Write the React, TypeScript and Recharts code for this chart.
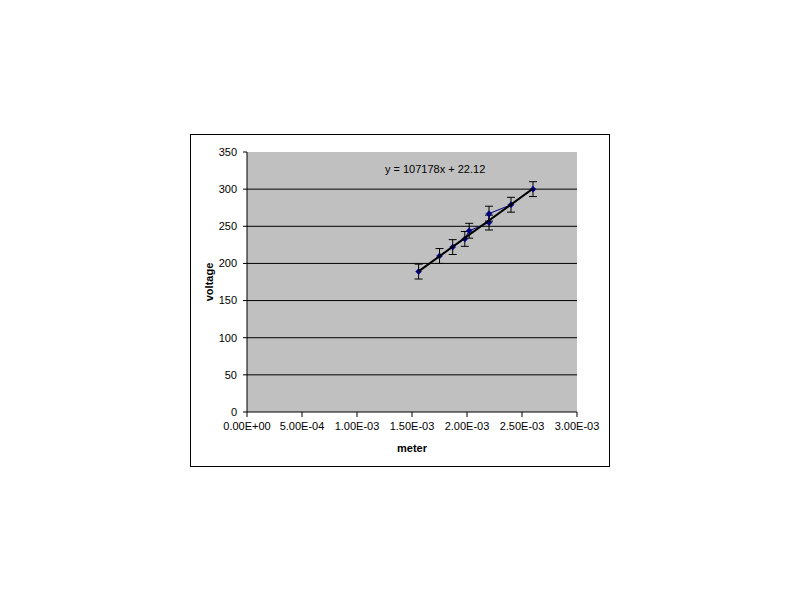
import {
  CartesianGrid,
  ErrorBar,
  Label,
  ReferenceDot,
  Scatter,
  ScatterChart,
  XAxis,
  YAxis,
} from "recharts";

const meters = [1.56e-3, 1.75e-3, 1.87e-3, 1.98e-3, 2.02e-3, 2.2e-3, 2.2e-3, 2.4e-3, 2.6e-3];
const voltages = [189, 210, 222, 233, 244, 255, 267, 279, 300];
const errors = [10, 10, 10, 10, 10, 10, 10, 10, 10];

const trendMeters = [1.56e-3, 2.6e-3];
const trendVoltages = [189.3, 300.8];

const xTicks = [0, 0.0005, 0.001, 0.0015, 0.002, 0.0025, 0.003];
const xTickLabels = ["0.00E+00", "5.00E-04", "1.00E-03", "1.50E-03", "2.00E-03", "2.50E-03", "3.00E-03"];
const yTicks = [0, 50, 100, 150, 200, 250, 300, 350];
const gridValues = [50, 100, 150, 200, 250, 300];

const equation = "y = 107178x + 22.12";

const points = meters.map((m, i) => ({ x: m, y: voltages[i], err: errors[i] }));
const trend = trendMeters.map((m, i) => ({ x: m, y: trendVoltages[i] }));

const FONT = "'Liberation Sans', Arial, sans-serif";
const tickStyle = { fontSize: 11, fill: "#000", fontFamily: FONT };

// small excel-style diamond marker
const Diamond = (props: any) => {
  const { cx, cy } = props;
  if (cx == null || cy == null) return null;
  const r = 3;
  return (
    <polygon
      points={`${cx},${cy - r} ${cx + r},${cy} ${cx},${cy + r} ${cx - r},${cy}`}
      fill="#000080"
      stroke="#000080"
      strokeWidth={0.5}
    />
  );
};

export default function App() {
  return (
    <div
      style={{
        position: "absolute",
        left: 0,
        top: 0,
        width: 800,
        height: 600,
        background: "#fff",
      }}
    >
      <div
        style={{
          position: "absolute",
          left: 190,
          top: 134,
          width: 418,
          height: 331,
          border: "1px solid #000",
        }}
      >
        <ScatterChart
          width={418}
          height={331}
          margin={{ top: 17, right: 32, left: 11, bottom: 14 }}
        >
          <CartesianGrid
            vertical={false}
            horizontalValues={gridValues}
            stroke="#000"
            fill="#c0c0c0"
            fillOpacity={1}
          />
          <XAxis
            type="number"
            dataKey="x"
            domain={[0, 0.003]}
            ticks={xTicks}
            tickFormatter={(v, i) => xTickLabels[i] ?? String(v)}
            tick={tickStyle}
            tickSize={5}
            tickMargin={5}
            axisLine={{ stroke: "#000" }}
            tickLine={{ stroke: "#000" }}
            height={40}
            interval={0}
          >
            <Label
              value="meter"
              position="insideBottom"
              offset={0}
              style={{ fontSize: 11, fontWeight: "bold", fill: "#000", fontFamily: FONT }}
            />
          </XAxis>
          <YAxis
            type="number"
            dataKey="y"
            domain={[0, 350]}
            ticks={yTicks}
            tick={tickStyle}
            tickSize={4}
            tickMargin={6}
            axisLine={{ stroke: "#000" }}
            tickLine={{ stroke: "#000" }}
            width={45}
            interval={0}
          >
            <Label
              value="voltage"
              angle={-90}
              position="insideLeft"
              offset={7}
              style={{
                fontSize: 11,
                fontWeight: "bold",
                fill: "#000",
                fontFamily: FONT,
                textAnchor: "middle",
              }}
            />
          </YAxis>
          <Scatter
            data={points}
            fill="#000080"
            shape={Diamond}
            line={{ stroke: "#000080", strokeWidth: 1 }}
            isAnimationActive={false}
          >
            <ErrorBar dataKey="err" direction="y" width={4} stroke="#000" strokeWidth={1} />
          </Scatter>
          <Scatter
            data={trend}
            line={{ stroke: "#000", strokeWidth: 2 }}
            shape={() => null}
            isAnimationActive={false}
          />
          <ReferenceDot
            x={0.00171}
            y={327}
            r={0}
            fill="none"
            stroke="none"
            label={{
              value: equation,
              position: "center",
              style: { fontSize: 11, fill: "#000", fontFamily: FONT },
            }}
          />
        </ScatterChart>
      </div>
    </div>
  );
}
